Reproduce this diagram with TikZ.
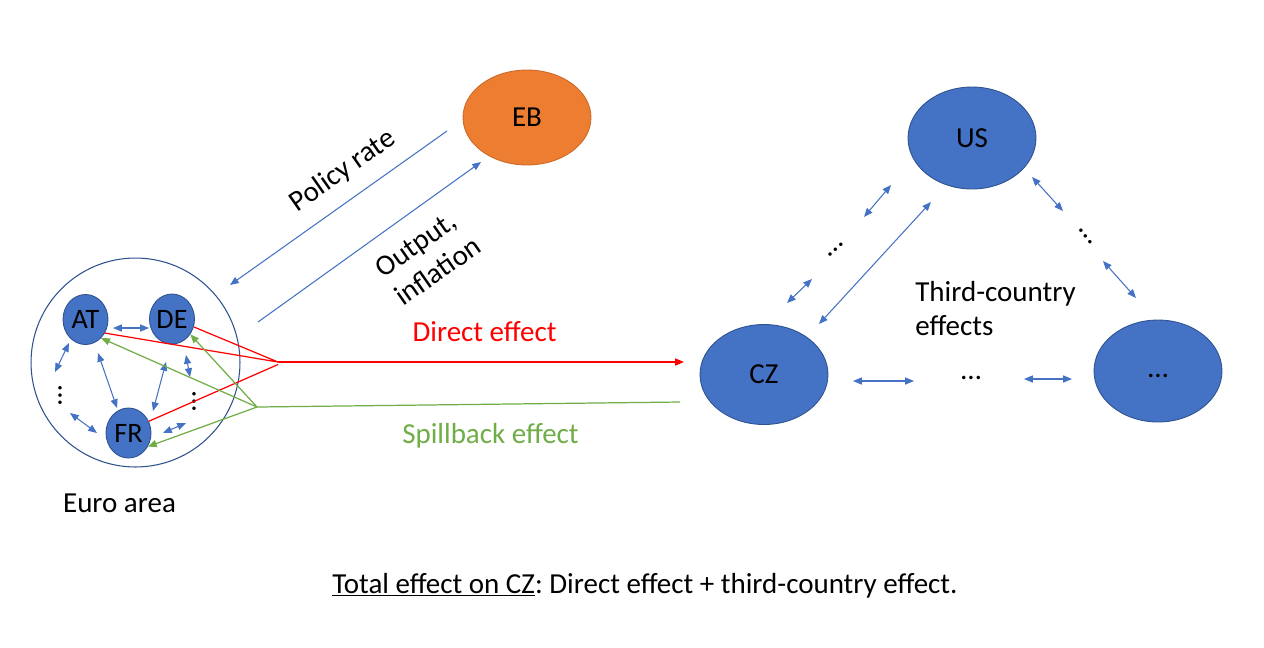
\documentclass[tikz,border=0pt]{standalone}
\usepackage{fontspec}
\setmainfont{Carlito}
\usetikzlibrary{shapes.geometric,arrows.meta}
\definecolor{boxblue}{HTML}{4472C4}
\definecolor{lineblue}{HTML}{2F528F}
\definecolor{eborange}{HTML}{ED7D31}
\definecolor{directred}{HTML}{FF0000}
\definecolor{spillgreen}{HTML}{70AD47}
\frenchspacing

\begin{document}
\begin{tikzpicture}[x=0.02cm,y=-0.02cm,
    every node/.style={font=\fontsize{16.5}{19.8}\selectfont},
    country/.style={ellipse,fill=boxblue,draw=lineblue,line width=0.5pt,
      minimum width=2.56cm,minimum height=2cm,inner sep=0pt},
    member/.style={ellipse,fill=boxblue,draw=lineblue,line width=0.5pt,
      minimum width=0.9cm,minimum height=1cm,inner sep=0pt,
      font=\fontsize{16}{19}\selectfont},
    tip/.tip={Triangle[length=5pt,width=4pt]},
    link/.style={boxblue,line width=0.6pt,tip-tip},
    oneway/.style={boxblue,line width=0.6pt,-tip},
    dotrow/.style={inner sep=0pt}]
    \useasboundingbox (0,0) rectangle (1264,647);

    % countries
    \node[country,fill=eborange,draw=eborange!85!black,minimum height=1.9cm] (EB) at (527,117.5) {EB};
    \node[country,minimum height=2.04cm] (US) at (972,138) {US};
    \node[country] (CZ) at (764,374.5) {CZ};
    \node[country,minimum height=2.04cm] (other) at (1158,371) {\strut …};

    % euro area
    \node[circle,draw=lineblue,line width=0.6pt,minimum size=4.18cm,inner sep=0pt] (EA) at (135.5,362.5) {};
    \node[member] (AT) at (85.5,319.5) {AT};
    \node[member] (DE) at (172,319) {DE};
    \node[member] (FR) at (128.5,433) {FR};
    \node[dotrow,rotate=90] (eadotsL) at (60,395) {…};
    \node[dotrow,rotate=90] (eadotsR) at (194,401) {…};

    % texts
    \node[anchor=base] (ealabel) at (119.5,512) {Euro area};
    \node[anchor=base,text=directred] (directlabel) at (484.5,341) {Direct effect};
    \node[anchor=base,text=spillgreen] (spilllabel) at (490.5,443) {Spillback effect};
    \node[rotate=35] (policylabel) at (343,171) {Policy rate};
    \node[rotate=35,align=left] (outputlabel) at (428,257) {Output,\\inflation};
    \node[anchor=west,align=left,inner sep=0pt] (thirdlabel) at (915,308.5) {Third-country\\effects};
    \node[anchor=base west,inner sep=0pt] (total) at (332,593) {\underline{Total effect on CZ}: Direct effect + third-country effect.};

    % free ends
    \coordinate (policyA) at (447,131); \coordinate (policyB) at (230,285);
    \coordinate (outputA) at (258,322); \coordinate (outputB) at (481,162);
    \coordinate (redapex) at (278,362); \coordinate (redend) at (684,362);
    \coordinate (greenapex) at (257,407); \coordinate (greenend) at (680,402);
    \coordinate (atdeA) at (113,328); \coordinate (atdeB) at (149,328);
    \coordinate (atupA) at (69,343); \coordinate (atupB) at (55,372);
    \coordinate (frlowA) at (70,413); \coordinate (frlowB) at (97,433);
    \coordinate (atfrA) at (98,353); \coordinate (atfrB) at (117,408);
    \coordinate (defrA) at (166,362); \coordinate (defrB) at (153,411);
    \coordinate (deupA) at (186,355); \coordinate (deupB) at (190,377);
    \coordinate (frupA) at (163,433); \coordinate (frupB) at (186,423);
    \coordinate (usczA) at (931,202); \coordinate (usczB) at (819,324);
    \coordinate (usdotA) at (891,185); \coordinate (usdotB) at (864,217);
    \coordinate (czdotA) at (812,279); \coordinate (czdotB) at (787,303);
    \coordinate (usrightA) at (1032,177); \coordinate (usrightB) at (1063,211);
    \coordinate (otherupA) at (1103,261); \coordinate (otherupB) at (1136,298);
    \coordinate (czrowA) at (853,381); \coordinate (czrowB) at (914,381);
    \coordinate (otherrowA) at (1024,379); \coordinate (otherrowB) at (1072,379);

    % euro area and ECB
    \draw[oneway] (policyA) -- (policyB);
    \draw[oneway] (outputA) -- (outputB);
    \draw[link] (atdeA) -- (atdeB);
    \draw[link] (atupA) -- (atupB);
    \draw[link] (frlowA) -- (frlowB);
    \draw[link] (atfrA) -- (atfrB);
    \draw[link] (defrA) -- (defrB);
    \draw[link] (deupA) -- (deupB);
    \draw[link] (frupA) -- (frupB);

    % direct and spillback effects
    \draw[directred,line width=0.7pt] (AT.-35) -- (redapex) (DE.-20) -- (redapex) (FR.30) -- ([yshift=-0.05cm]redapex);
    \draw[directred,line width=0.7pt,-tip] (redapex) -- (redend);
    \draw[spillgreen,line width=0.7pt] (greenend) -- (greenapex);
    \draw[spillgreen,line width=0.7pt,-tip] (greenapex) -- (AT.-50);
    \draw[spillgreen,line width=0.7pt,-tip] (greenapex) -- (DE.-40);
    \draw[spillgreen,line width=0.7pt,-tip] (greenapex) -- (FR.-35);

    % third countries
    \draw[link] (usczA) -- (usczB);
    \draw[link] (usdotA) -- (usdotB);
    \draw[link] (czdotA) -- (czdotB);
    \draw[link] (usrightA) -- (usrightB);
    \draw[link] (otherupA) -- (otherupB);
    \draw[link] (czrowA) -- (czrowB);
    \draw[link] (otherrowA) -- (otherrowB);
    \node[dotrow,rotate=42] (czusdots) at (836,250) {…};
    \node[dotrow,rotate=-52] (usotherdots) at (1086,236) {…};
    \node[dotrow] (czotherdots) at (971,378) {…};
  \end{tikzpicture}
\end{document}
